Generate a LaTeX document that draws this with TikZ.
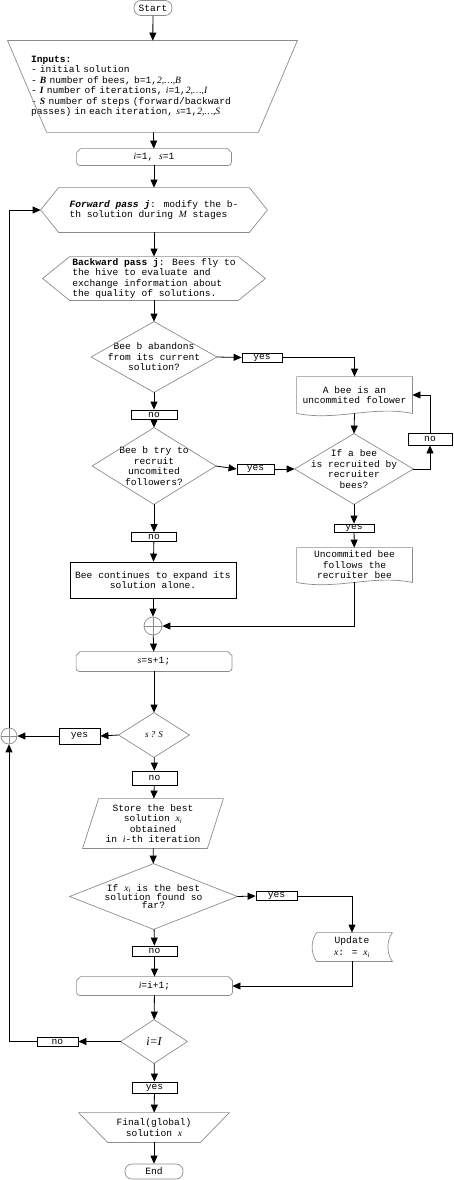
\documentclass[tikz,border=0pt]{standalone}
\usepackage{fontspec}
\setmainfont{Liberation Mono}
\newfontfamily\tms{Liberation Serif}
\usetikzlibrary{arrows.meta}
\definecolor{shapegray}{RGB}{140,140,140}
\newcommand{\vi}[1]{{\tms\itshape #1}}
\newcommand{\vb}[1]{{\tms\bfseries\itshape #1}}

\begin{document}
\begin{tikzpicture}[x=1pt, y=-1pt, line width=0.8pt,
    every node/.style={font=\fontsize{9.6}{10.5}\selectfont, inner sep=0pt, align=center},
    dims/.style 2 args={minimum width=#1, minimum height=#2},
    shapeline/.style={draw=shapegray, line width=0.7pt},
    terminal/.style={draw=shapegray, line width=0.7pt, rounded corners=7pt},
    block/.style={draw=black},
    lbl/.style={draw=black},
    junction/.style={circle, draw=shapegray, line width=0.7pt,
        path picture={\draw[line width=0.6pt] (path picture bounding box.north) -- (path picture bounding box.south)
            (path picture bounding box.west) -- (path picture bounding box.east);}},
    arrow/.style={-{Triangle[length=8pt,width=7pt]}}]
    \useasboundingbox (0,0) rectangle (453,1180);

    % Main column
    \node[terminal, dims={38pt}{15pt}] (start) at (153,8) {Start};
    \node[dims={289pt}{91pt}, text width=243pt, align=left, inner xsep=23pt] (input) at (152.5,86.5) {
        \textbf{Inputs:}\\
        - initial solution\\
        - \vb{B} number of bees, b=1,\vi{2,…,B}\\
        - \vb{I} number of iterations, \vi{i}=1,\vi{2,…,I}\\
        - \vb{S} number of steps (forward/backward\\
        passes) in each iteration, \vi{s}=1,\vi{2,…,S}};
    \node[dims={154pt}{16pt}] (init) at (154,157) {\vi{i}=1, \vi{s}=1};
    \node[dims={226pt}{44pt}, align=left] (fwd) at (154,210) {
        \textbf{\textit{Forward pass j}}: modify the b-\\
        th solution during \vi{M} stages};
    \node[dims={222pt}{43pt}, align=left] (bwd) at (154,278.5) {
        \textbf{Backward pass j}: Bees fly to\\
        the hive to evaluate and\\
        exchange information about\\
        the quality of solutions.};
    \node[dims={125pt}{70pt}] (abandon) at (154,357) {Bee b abandons\\from its current\\solution?};
    \node[lbl, dims={46pt}{9pt}] (no1) at (154,414.5) {no};
    \node[dims={123pt}{76pt}] (recruit) at (154,466) {Bee b try to\\recruit\\uncomited\\followers?};
    \node[lbl, dims={45pt}{9pt}] (no2) at (154,537) {no};
    \node[block, dims={166pt}{36pt}] (alone) at (153,580) {Bee continues to expand its\\solution alone.};
    \node[junction, minimum size=18pt] (join1) at (153,626) {};
    \node[dims={155pt}{19pt}] (incs) at (154,661.5) {\vi{s}=s+1;};
    \node[dims={70pt}{44pt}, font=\tms\itshape\fontsize{9}{10}\selectfont] (sless) at (154,735) {s ? S};
    \node[lbl, dims={41pt}{16pt}] (yes3) at (79.5,736) {yes};
    \node[junction, minimum size=16pt] (join2) at (9,736) {};
    \node[lbl, dims={45pt}{14pt}] (no3) at (154.5,778) {no};
    \node[dims={140pt}{49pt}] (store) at (153,823.5) {Store the best\\solution \vi{x}\textsubscript{\vi{i}}\\obtained\\in \vi{i}-th iteration};
    \node[dims={167pt}{65pt}, font=\fontsize{9.6}{8}\selectfont] (best) at (153.5,896.5) {If \vi{x}\textsubscript{\vi{i}} is the best\\solution found so\\far?};
    \node[lbl, dims={45pt}{10pt}] (no4) at (154.5,951) {no};
    \node[dims={155pt}{18pt}] (inci) at (154.5,986) {\vi{i}=i+1;};
    \node[dims={66pt}{43pt}, font=\tms\itshape\fontsize{12}{12}\selectfont] (iend) at (154,1041.5) {i=I};
    \node[lbl, dims={41pt}{9pt}] (no5) at (57.5,1041.5) {no};
    \node[lbl, dims={45pt}{11pt}] (yes5) at (154.5,1087.5) {yes};
    \node[dims={150pt}{29pt}] (final) at (154,1127.5) {Final(global)\\solution \vi{x}};
    \node[terminal, dims={58pt}{15pt}] (end) at (154,1171.5) {End};

    % Right column
    \node[lbl, dims={40pt}{9pt}] (yes1) at (262,357.5) {yes};
    \node[dims={115pt}{36pt}] (follow) at (354.5,395) {A bee is an\\uncommited folower};
    \node[lbl, dims={37pt}{10pt}] (yes2) at (255.5,469) {yes};
    \node[dims={118pt}{70pt}] (recruited) at (354,469) {If a bee\\is recruited by\\recruiter\\bees?};
    \node[lbl, dims={44pt}{12pt}] (no6) at (430,439) {no};
    \node[lbl, dims={40pt}{8pt}] (yes6) at (354,528) {yes};
    \node[dims={115pt}{34pt}] (recruiter) at (354.5,565) {Uncommited bee\\follows the\\recruiter bee};
    \node[lbl, dims={41pt}{9pt}] (yes4) at (276.5,896) {yes};
    \node[dims={80pt}{28pt}] (update) at (352,947) {Update\\[2pt]\vi{x}: = \vi{x}\textsubscript{\vi{i}}};

    % Outlines
    \foreach \n in {abandon,recruit,recruited,sless,best,iend}
        \draw[shapeline] (\n.north) -- (\n.east) -- (\n.south) -- (\n.west) -- cycle;
    \foreach \n/\c in {fwd/18pt, bwd/27pt}
        \draw[shapeline] (\n.west) -- ([xshift=\c]\n.north west) -- ([xshift=-\c]\n.north east) -- (\n.east)
            -- ([xshift=-\c]\n.south east) -- ([xshift=\c]\n.south west) -- cycle;
    \foreach \n/\c in {input/39pt, final/29pt}
        \draw[shapeline] (\n.north west) -- (\n.north east) -- ([xshift=-\c]\n.south east) -- ([xshift=\c]\n.south west) -- cycle;
    \foreach \n in {init,incs,inci}
        \draw[shapeline] ([xshift=4pt]\n.north west) -- ([xshift=-4pt]\n.north east) -- ([yshift=-4pt]\n.north east)
            [rounded corners=3pt] -- (\n.south east) -- (\n.south west) [sharp corners] -- ([yshift=-4pt]\n.north west) -- cycle;
    \foreach \n in {follow,recruiter}
        \draw[shapeline] (\n.south west) -- (\n.north west) -- (\n.north east) -- (\n.south east)
            .. controls ([xshift=-40pt,yshift=8pt]\n.south east) and ([xshift=40pt,yshift=-8pt]\n.south west) .. (\n.south west);
    \draw[shapeline] ([xshift=16pt]store.north west) -- (store.north east) -- ([xshift=-16pt]store.south east) -- (store.south west) -- cycle;
    \draw[shapeline] ([xshift=5pt]update.north west) -- (update.north east)
        .. controls ([xshift=-6pt,yshift=-8pt]update.north east) and ([xshift=-6pt,yshift=8pt]update.south east) .. (update.south east)
        -- ([xshift=5pt]update.south west)
        .. controls ([xshift=-1pt,yshift=8pt]update.south west) and ([xshift=-1pt,yshift=-8pt]update.north west) .. ([xshift=5pt]update.north west) -- cycle;

    % Connectors
    \draw[arrow] (start) -- (input);
    \draw[arrow] (input) -- (init);
    \draw[arrow] (init) -- (fwd);
    \draw[arrow] (fwd) -- (bwd);
    \draw[arrow] (bwd) -- (abandon);
    \draw[arrow] (abandon) -- (no1);
    \draw[arrow] (no1) -- (recruit);
    \draw[arrow] (recruit) -- (no2);
    \draw[arrow] (no2) -- (alone);
    \draw[arrow] (alone) -- (join1);
    \draw[arrow] (join1) -- (incs);
    \draw[arrow] (incs) -- (sless);
    \draw[arrow] (sless) -- (no3);
    \draw[arrow] (no3) -- (store);
    \draw[arrow] (store) -- (best);
    \draw[arrow] (best) -- (no4);
    \draw[arrow] (no4) -- (inci);
    \draw[arrow] (inci) -- (iend);
    \draw[arrow] (iend) -- (yes5);
    \draw[arrow] (yes5) -- (final);
    \draw[arrow] (final) -- (end);

    \draw[arrow] (abandon.east) -- (yes1.west);
    \draw[arrow] (yes1.east) -| (follow.north);
    \draw[arrow] (follow.south) -- (recruited.north);
    \draw[arrow] (recruit.east) -- (yes2.west);
    \draw[arrow] (yes2.east) -- (recruited.west);
    \draw[arrow] (recruited.east) -| (no6.south);
    \draw[arrow] (no6.north) |- (follow.east);
    \draw[arrow] (recruited) -- (yes6);
    \draw[arrow] (yes6) -- (recruiter);
    \draw[arrow] (recruiter.south) |- (join1.east);

    \draw[arrow] (sless.west) -- (yes3.east);
    \draw[arrow] (yes3.west) -- (join2.east);
    \draw[arrow] (best.east) -- (yes4.west);
    \draw[arrow] (yes4.east) -| (update.north);
    \draw[arrow] (update.south) |- (inci.east);
    \draw[arrow] (iend.west) -- (no5.east);
    \draw[arrow] (no5.west) -| (join2.south);
    \draw[arrow] (join2.north) |- (fwd.west);
\end{tikzpicture}
\end{document}
